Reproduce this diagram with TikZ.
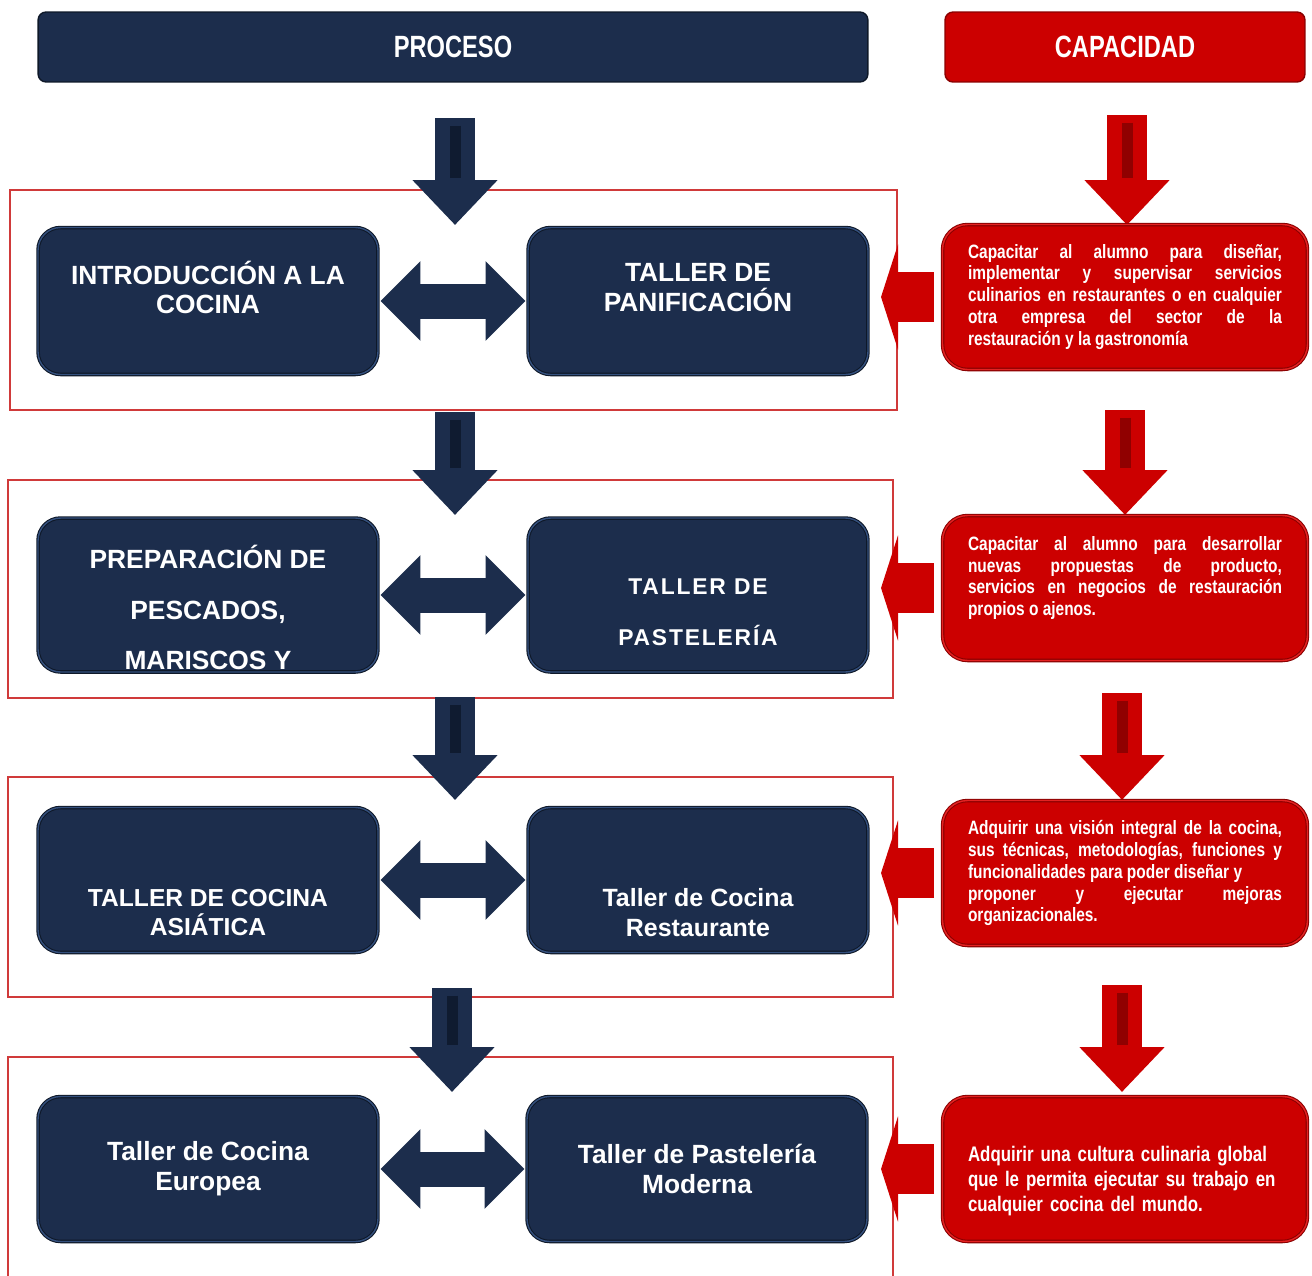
\documentclass[tikz,border=0pt]{standalone}
\usepackage{fontspec}
\setmainfont{Liberation Sans}
\newfontfamily\narrowfont[FakeStretch=0.8]{Liberation Sans}
\newfontfamily\headfont[FakeStretch=0.77]{Liberation Sans}
\usepackage{xcolor}
\usetikzlibrary{arrows.meta,positioning,calc,shadows}
\tolerance=10000

\definecolor{navy}{HTML}{1C2D4C}
\definecolor{navyedge}{HTML}{0E1828}
\definecolor{navyrim}{HTML}{34507E}
\definecolor{navydeep}{HTML}{0F1B30}
\definecolor{capred}{HTML}{CC0000}
\definecolor{capedge}{HTML}{8A0000}
\definecolor{caprim}{HTML}{E52222}
\definecolor{capdeep}{HTML}{900000}
\definecolor{framered}{HTML}{D03A3A}

\begin{document}
\begin{tikzpicture}[x=0.02cm, y=-0.02cm,
  header/.style={rounded corners=0.16cm, minimum height=1.4cm, line width=0.8pt, text=white,
    font=\headfont\bfseries\fontsize{17.5}{20}\selectfont},
  frame/.style={draw=framered, line width=1.2pt},
  navybox/.style={rounded corners=0.45cm, minimum width=6.8cm, minimum height=2.9cm,
    fill=navy, draw=navyedge, double=navyrim, double distance=0.8pt, line width=0.6pt,
    drop shadow={opacity=0.3, shadow xshift=0.6pt, shadow yshift=-0.8pt},
    text=white, align=center, font=\bfseries\fontsize{15}{17}\selectfont},
  boxlbl/.style={text=white, align=center, font=\bfseries\fontsize{15}{17}\selectfont},
  capbox/.style={rounded corners=0.5cm, minimum width=7.3cm, minimum height=2.9cm,
    fill=capred, draw=capedge, double=caprim, double distance=0.8pt, line width=0.6pt,
    drop shadow={opacity=0.3, shadow xshift=0.6pt, shadow yshift=-0.8pt},
    text=white, text width=6.28cm, align=justify,
    font=\narrowfont\bfseries\fontsize{11}{12.5}\selectfont},
  caplbl/.style={text=white, text width=6.28cm, align=left,
    font=\narrowfont\bfseries\fontsize{12}{14}\selectfont},
  navydown/.style={line width=0.8cm, draw=navy, -{Triangle[length=0.9cm,width=1.65cm]},
    postaction={draw=navydeep, line width=0.22cm, -, shorten >=0.95cm, shorten <=0.15cm}},
  reddown/.style={line width=0.8cm, draw=capred, -{Triangle[length=0.9cm,width=1.65cm]},
    postaction={draw=capdeep, line width=0.22cm, -, shorten >=0.95cm, shorten <=0.15cm}},
  twoway/.style={line width=0.7cm, draw=navy,
    {Triangle[length=0.8cm,width=1.55cm]}-{Triangle[length=0.8cm,width=1.55cm]},
    shorten <=0.04cm, shorten >=0.04cm},
  redleft/.style={line width=1cm, draw=capred, -{Triangle[length=0.34cm,width=2.1cm]}}]

  \useasboundingbox (0,0) rectangle (1312,1275);

  % headers
  \node[header, fill=navy, draw=navyedge, minimum width=16.6cm] (proc) at (453,47) {PROCESO};
  \node[header, fill=capred, draw=capedge, minimum width=7.2cm] (capa) at (1125,47) {CAPACIDAD};

  % red frames round each pair
  \draw[frame] (10,190) rectangle (897,410);
  \draw[frame] (8,480) rectangle (893,698);
  \draw[frame] (8,777) rectangle (893,997);
  \draw[frame] (8,1057) rectangle (893,1290);

  % ends of the down arrows
  \coordinate (n1a) at (455,118);  \coordinate (n1b) at (455,225);
  \coordinate (n2a) at (455,412);  \coordinate (n2b) at (455,515);
  \coordinate (n3a) at (455,697);  \coordinate (n3b) at (455,800);
  \coordinate (n4a) at (452,988);  \coordinate (n4b) at (452,1092);
  \coordinate (r1a) at (1127,115); \coordinate (r1b) at (1127,225);
  \coordinate (r2a) at (1125,410); \coordinate (r2b) at (1125,515);
  \coordinate (r3a) at (1122,693); \coordinate (r3b) at (1122,800);
  \coordinate (r4a) at (1122,985); \coordinate (r4b) at (1122,1092);

  \draw[navydown] (n1a) -- (n1b);
  \draw[navydown] (n2a) -- (n2b);
  \draw[navydown] (n3a) -- (n3b);
  \draw[navydown] (n4a) -- (n4b);
  \draw[reddown] (r1a) -- (r1b);
  \draw[reddown] (r2a) -- (r2b);
  \draw[reddown] (r3a) -- (r3b);
  \draw[reddown] (r4a) -- (r4b);

  % process boxes
  \node[navybox, minimum height=2.94cm, label={[boxlbl, yshift=0.27cm]center:{INTRODUCCIÓN A LA\\COCINA}}] (intro) at (208,301) {};
  \node[navybox, minimum height=2.94cm, label={[boxlbl, yshift=0.27cm]center:{TALLER DE\\PANIFICACIÓN}}] (panif) at (698,301) {};

  \node[navybox, minimum height=3.08cm, label={[boxlbl, font=\bfseries\fontsize{15}{28.7}\selectfont, yshift=-0.25cm]center:{PREPARACIÓN DE\\PESCADOS,\\MARISCOS Y}}] (pesca) at (208,595) {};
  \node[navybox, minimum height=3.08cm, label={[boxlbl, font=\bfseries\addfontfeature{LetterSpace=8}\fontsize{13}{29}\selectfont, yshift=-0.35cm]center:{TALLER DE\\PASTELERÍA}}] (paste) at (698,595) {};

  \node[navybox, label={[boxlbl, font=\bfseries\fontsize{14}{17}\selectfont, yshift=-0.65cm]center:{TALLER DE COCINA\\ASIÁTICA}}] (asia) at (208,880) {};
  \node[navybox, label={[boxlbl, font=\bfseries\fontsize{14.2}{17}\selectfont, yshift=-0.65cm]center:{Taller de Cocina\\Restaurante}}] (resto) at (698,880) {};

  \node[navybox] (euro) at (208,1169) {Taller de Cocina\\Europea};
  \node[navybox] (moder) at (697,1169) {Taller de Pastelería\\Moderna};

  \draw[twoway] (intro.east) -- (panif.west);
  \draw[twoway] (pesca.east) -- (paste.west);
  \draw[twoway] (asia.east) -- (resto.west);
  \draw[twoway] (euro.east) -- (moder.west);

  % capacity boxes
  \node[capbox] (cap1) at (1125,297) {Capacitar al alumno para diseñar,\linebreak
    implementar y supervisar servicios\linebreak
    culinarios en restaurantes o en cualquier\linebreak
    otra empresa del sector de la\linebreak
    restauración y la gastronomía};
  \node[capbox] (cap2) at (1125,588) {Capacitar al alumno para desarrollar\linebreak
    nuevas propuestas de producto,\linebreak
    servicios en negocios de restauración\linebreak
    propios o ajenos.\par\vspace{0.4cm}};
  \node[capbox] (cap3) at (1125,873) {Adquirir una visión integral de la cocina,\linebreak
    sus técnicas, metodologías, funciones y\linebreak
    funcionalidades para poder diseñar y\newline
    proponer y ejecutar mejoras\linebreak
    organizacionales.};
  \node[capbox, label={[caplbl, yshift=-0.24cm]center:{Adquirir una cultura culinaria global\\
    que le permita ejecutar su trabajo en\\
    cualquier cocina del mundo.}}] (cap4) at (1125,1169) {};

  \draw[redleft] ([xshift=-0.16cm]cap1.west) -- ([xshift=-1.22cm]cap1.west);
  \draw[redleft] ([xshift=-0.16cm]cap2.west) -- ([xshift=-1.22cm]cap2.west);
  \draw[redleft] ([xshift=-0.16cm]cap3.west) -- ([xshift=-1.22cm]cap3.west);
  \draw[redleft] ([xshift=-0.16cm]cap4.west) -- ([xshift=-1.22cm]cap4.west);
\end{tikzpicture}
\end{document}
